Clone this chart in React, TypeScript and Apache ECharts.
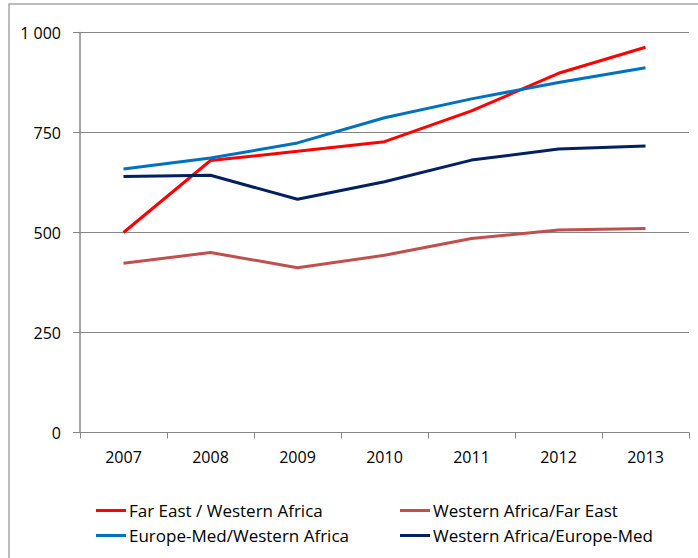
import React, { useEffect, useRef } from "react";
import * as echarts from "echarts";

const years = ["2007", "2008", "2009", "2010", "2011", "2012", "2013"];
const farEastWestAfrica = [500, 680, 703, 727, 804, 898, 963];
const westAfricaFarEast = [423, 450, 412, 443, 485, 506, 510];
const europeMedWestAfrica = [659, 686, 724, 787, 834, 875, 912];
const westAfricaEuropeMed = [640, 643, 583, 627, 681, 709, 716];
const yTicks = [0, 250, 500, 750, 1000];

const FONT = "Open Sans";

export default function App() {
  const ref = useRef<HTMLDivElement>(null);
  useEffect(() => {
    if (!ref.current) return;
    const chart = echarts.init(ref.current, null, { renderer: "svg" });
    const names = [
      "Far East / Western Africa",
      "Western Africa/Far East",
      "Europe-Med/Western Africa",
      "Western Africa/Europe-Med",
    ];
    const colors = ["#FF0000", "#C0504D", "#0070C0", "#002060"];
    const datas = [farEastWestAfrica, westAfricaFarEast, europeMedWestAfrica, westAfricaEuropeMed];
    const legendPos = [
      { left: 96, top: 502 },
      { left: 400, top: 502 },
      { left: 96, top: 527 },
      { left: 400, top: 527 },
    ];
    chart.setOption({
      animation: false,
      textStyle: { fontFamily: FONT },
      graphic: [
        {
          type: "rect",
          shape: { x: 9, y: 4, width: 720, height: 600 },
          style: { fill: "none", stroke: "#a6a6a6", lineWidth: 1.5 },
          silent: true,
        },
      ],
      grid: { left: 80, right: 9, top: 32.5, bottom: 125.5 },
      legend: names.map((n, i) => ({
        data: [n],
        left: legendPos[i].left,
        top: legendPos[i].top,
        padding: 0,
        icon: "rect",
        itemWidth: 30,
        itemHeight: 3,
        textStyle: { fontFamily: FONT, fontSize: 17, color: "#000", padding: [0, 0, 0, -2] },
      })),
      xAxis: {
        type: "category",
        data: years,
        boundaryGap: true,
        axisLine: { lineStyle: { color: "#868686", width: 1 } },
        axisTick: { show: true, length: 6, lineStyle: { color: "#868686" } },
        axisLabel: { fontFamily: FONT, fontSize: 16, color: "#000", margin: 16 },
      },
      yAxis: {
        type: "value",
        min: 0,
        max: 1000,
        interval: 250,
        axisLine: { show: true, lineStyle: { color: "#868686", width: 1.5 } },
        axisTick: { show: true, length: 7, lineStyle: { color: "#868686" } },
        splitLine: { lineStyle: { color: "#868686", width: 1 } },
        axisLabel: {
          fontFamily: FONT,
          fontSize: 16,
          color: "#000",
          margin: 19,
          formatter: (v: number) =>
            yTicks.includes(v) ? String(v).replace(/\B(?=(\d{3})+(?!\d))/g, " ") : "",
        },
      },
      series: names.map((n, i) => ({
        name: n,
        type: "line",
        data: datas[i],
        symbol: "none",
        itemStyle: { color: colors[i] },
        lineStyle: { color: colors[i], width: 3 },
      })),
    });
    return () => chart.dispose();
  }, []);
  return <div ref={ref} style={{ width: 698, height: 558, position: "absolute", left: 0, top: 0 }} />;
}
